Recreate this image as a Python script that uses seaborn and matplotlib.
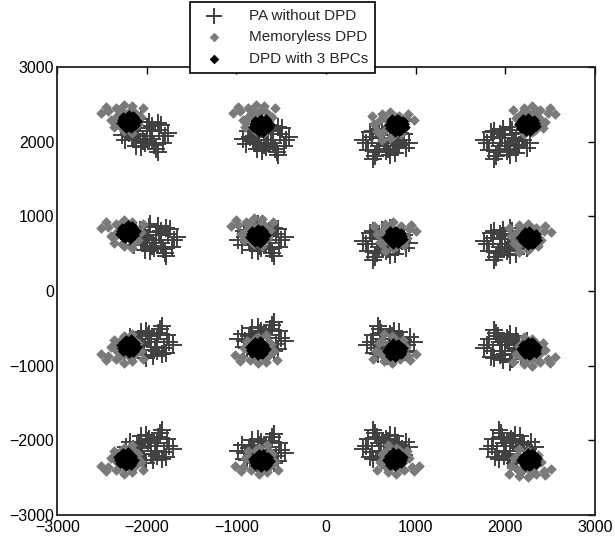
import numpy as np
import pandas as pd
import matplotlib
matplotlib.use("Agg")
import matplotlib.pyplot as plt
import seaborn as sns

# ==========================
# DATA
# ==========================
# cluster centres, one per constellation point (row by row, top to bottom)
pa_cx = [-2000, -650, 650, 2000, -1900, -700, 650, 2000, -1950, -700, 700, 2000, -1950, -700, 650, 2050]
pa_cy = [2100, 2050, 2000, 2000, 700, 700, 650, 650, -700, -650, -700, -750, -2100, -2150, -2100, -2100]

mem_cx = [-2250, -780, 720, 2300, -2250, -800, 750, 2250, -2250, -760, 740, 2300, -2250, -750, 780, 2250]
mem_cy = [2300, 2300, 2200, 2280, 750, 780, 720, 700, -760, -770, -760, -800, -2250, -2250, -2250, -2300]

blk_cx = [-2200, -720, 790, 2250, -2210, -760, 770, 2270, -2200, -760, 770, 2270, -2230, -720, 770, 2270]
blk_cy = [2270, 2220, 2220, 2230, 790, 740, 720, 710, -740, -765, -790, -770, -2250, -2270, -2250, -2260]

# scatter of each cluster around its centre (outward direction = +x, +y)
pa_dx = [-240, -180, -120, -60, 0, 60, 120, 180, 240, -200, -140, -80, -20, 40, 100,
         160, 220, -160, -100, -40, 20, 80, 140, 200, -120, -60, 0, 60, 120, 280]
pa_dy = [20, -110, 150, -60, 90, -170, 40, 120, -80, -20, 60, -140, 170, -90, 10,
         -40, 100, 130, -190, 50, -120, 160, -60, 20, -230, 110, -20, 200, -150, -10]

mem_dx = [-180, -120, -60, 0, 60, 120, 180, -150, -90, -30, 30, 90, 150, -120, -60,
          0, 60, 120, -90, 0, 90, 200, 260, -210]
mem_dy = [40, -90, 120, -150, 60, -30, 110, -60, 180, 20, -120, 150, -10, 90, -40,
          200, 130, -100, -180, 80, 30, 170, 90, 150]

blk_dx = [-90, -60, -30, 0, 30, 60, 90, -70, -40, -10, 20, 50, 80, -50, -20, 10, 40, 70, -30, 30]
blk_dy = [10, 60, -50, 90, -80, 40, -20, -40, 30, -10, 70, -60, 20, 80, -90, 50, -30, 60, 0, -70]


def build(cx, cy, dx, dy):
    xs, ys = [], []
    for x0, y0 in zip(cx, cy):
        sx, sy = np.sign(x0), np.sign(y0)
        xs += [x0 + sx * d for d in dx]
        ys += [y0 + sy * d for d in dy]
    return pd.DataFrame({"I": xs, "Q": ys})


pa = build(pa_cx, pa_cy, pa_dx, pa_dy)
mem = build(mem_cx, mem_cy, mem_dx, mem_dy)
blk = build(blk_cx, blk_cy, blk_dx, blk_dy)

# ==========================
# PLOT
# ==========================
sns.set_style("white")
plt.rcParams["font.family"] = ["Liberation Sans", "DejaVu Sans"]

fig = plt.figure(figsize=(6.15, 5.47), dpi=100)
ax = fig.add_axes([0.093, 0.059, 0.874, 0.818])

sns.scatterplot(data=pa, x="I", y="Q", marker="+", s=160, color="#404040",
                linewidth=1.4, ax=ax, label="PA without DPD")
sns.scatterplot(data=mem, x="I", y="Q", marker="D", s=24, color="#7a7a7a",
                edgecolor="#7a7a7a", linewidth=0.5, ax=ax, label="Memoryless DPD")
sns.scatterplot(data=blk, x="I", y="Q", marker="D", s=24, color="black",
                edgecolor="black", linewidth=0.5, ax=ax, label="DPD with 3 BPCs")

ax.set_xlim(-3000, 3000)
ax.set_ylim(-3000, 3000)
ax.set_xticks(np.arange(-3000, 3001, 1000))
ax.set_yticks(np.arange(-3000, 3001, 1000))
ax.set_xlabel("")
ax.set_ylabel("")
ax.tick_params(direction="in", length=5, width=1, top=True, right=True,
               labelsize=11.5, colors="black", pad=2)
ax.tick_params(axis="x", pad=4)
for sp in ax.spines.values():
    sp.set_color("#222222")
    sp.set_linewidth(1.3)

leg = ax.legend(loc="upper left", bbox_to_anchor=(0.309, 0.997),
                bbox_transform=fig.transFigure, fontsize=11, frameon=True,
                fancybox=False, borderpad=0.45, labelspacing=0.5,
                handletextpad=1.2, handlelength=2.2, borderaxespad=0,
                markerscale=0.9)
leg.get_frame().set_edgecolor("black")
leg.get_frame().set_linewidth(1.2)
leg.get_frame().set_alpha(1)

fig.savefig("out.png", dpi=100)
